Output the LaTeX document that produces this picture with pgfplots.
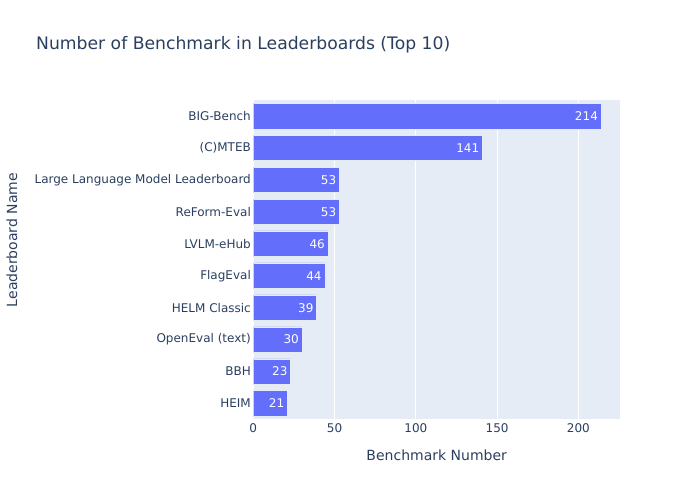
\documentclass[border=0pt]{standalone}
\usepackage{pgfplots}
\pgfplotsset{compat=1.18}
\usepackage{fontspec}
\setmainfont{DejaVu Sans}
\definecolor{txt}{HTML}{2A3F5F}
\definecolor{barc}{HTML}{636EFA}
\definecolor{bg}{HTML}{E5ECF6}
\begin{document}
\begin{tikzpicture}[x=1pt,y=1pt]
\useasboundingbox (0,0) rectangle (700,500);
\begin{axis}[
  at={(253.3pt,80.5pt)}, anchor=south west, scale only axis,
  width=366.7pt, height=319.5pt,
  xmin=0, xmax=225.6, ymin=-0.5, ymax=9.5,
  xbar, bar width=25.6pt,
  ytick={0,...,9},
  yticklabels={HEIM,BBH,OpenEval (text),HELM Classic,FlagEval,LVLM-eHub,ReForm-Eval,Large Language Model Leaderboard,(C)MTEB,BIG-Bench},
  xtick={0,50,100,150,200},
  xmajorgrids, grid style={white, line width=1pt},
  axis line style={draw=none}, major tick style={draw=none},
  axis background/.style={fill=bg},
  ticklabel style={font=\fontsize{12}{14}\selectfont, text=txt, inner sep=0pt},
  /pgf/number format/assume math mode=true,
  yticklabel style={xshift=2pt},
  xticklabel style={yshift=-4pt},
  nodes near coords,
  every node near coord/.append style={anchor=east, text=white, font=\fontsize{12}{14}\selectfont, inner sep=0pt, xshift=-3pt},
]
\addplot[fill=barc, draw=bg, line width=0.5pt] coordinates {(21,0) (23,1) (30,2) (39,3) (44,4) (46,5) (53,6) (53,7) (141,8) (214,9)};
\end{axis}
\node[anchor=west, text=txt, font=\fontsize{17.2}{20}\selectfont, inner sep=0pt] at (36,455) {Number of Benchmark in Leaderboards (Top 10)};
\node[text=txt, font=\fontsize{14}{16}\selectfont, inner sep=0pt] at (436.7,45) {Benchmark Number};
\node[text=txt, font=\fontsize{14}{16}\selectfont, inner sep=0pt, rotate=90] at (12,260) {Leaderboard Name};
\end{tikzpicture}
\end{document}
